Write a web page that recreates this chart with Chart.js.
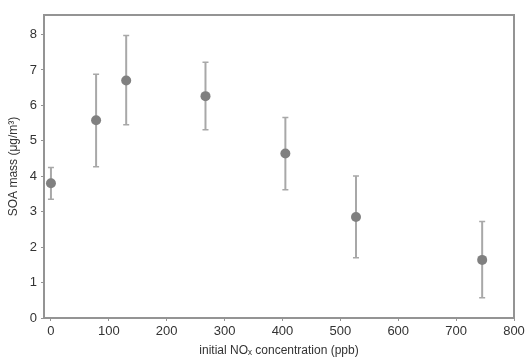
<!DOCTYPE html>
<html>
<head>
<meta charset="utf-8">
<script src="https://cdn.jsdelivr.net/npm/chart.js@4/dist/chart.umd.min.js"></script>
<style>
html,body{margin:0;padding:0;background:#fff;}
#wrap{width:526px;height:358px;}
</style>
</head>
<body>
<div id="wrap"><canvas id="c" width="526" height="358"></canvas></div>
<script>
const noxPpb = [0, 78, 130, 267, 405, 527, 745];
const soaMass = [3.80, 5.58, 6.70, 6.26, 4.64, 2.85, 1.64];
const soaUpper = [4.25, 6.88, 7.97, 7.22, 5.66, 4.01, 2.72];
const soaLower = [3.35, 4.27, 5.45, 5.31, 3.62, 1.70, 0.57];
const xTicks = [0, 100, 200, 300, 400, 500, 600, 700, 800];
const yTicks = [0, 1, 2, 3, 4, 5, 6, 7, 8];

const axisColor = '#949494';
const textColor = '#333333';

const errorBars = {
  id: 'errorBars',
  beforeDatasetsDraw(chart) {
    const ctx = chart.ctx;
    const xs = chart.scales.x, ys = chart.scales.y;
    ctx.save();
    ctx.strokeStyle = '#a8a8a8';
    for (let i = 0; i < noxPpb.length; i++) {
      const px = xs.getPixelForValue(noxPpb[i]);
      const pu = ys.getPixelForValue(soaUpper[i]);
      const pl = ys.getPixelForValue(soaLower[i]);
      ctx.lineWidth = 2;
      ctx.beginPath();
      ctx.moveTo(px, pu); ctx.lineTo(px, pl);
      ctx.stroke();
      ctx.lineWidth = 1.5;
      ctx.beginPath();
      ctx.moveTo(px - 3, pu); ctx.lineTo(px + 3, pu);
      ctx.moveTo(px - 3, pl); ctx.lineTo(px + 3, pl);
      ctx.stroke();
    }
    ctx.restore();
  }
};

const frame = {
  id: 'frame',
  afterDraw(chart) {
    const a = chart.chartArea, ctx = chart.ctx;
    ctx.save();
    ctx.strokeStyle = axisColor;
    ctx.lineWidth = 2;
    ctx.beginPath();
    ctx.moveTo(a.left - 1, a.top);
    ctx.lineTo(a.right, a.top);
    ctx.lineTo(a.right, a.bottom + 1);
    ctx.stroke();
    ctx.restore();
  }
};

new Chart(document.getElementById('c'), {
  type: 'scatter',
  data: {
    datasets: [{
      data: noxPpb.map((x, i) => ({x: x, y: soaMass[i]})),
      backgroundColor: '#808080',
      borderColor: '#808080',
      pointRadius: 5,
      pointHoverRadius: 5,
      borderWidth: 0
    }]
  },
  options: {
    responsive: false,
    animation: false,
    devicePixelRatio: 1,
    layout: {padding: {top: 15, right: 12, left: 0, bottom: 0}},
    plugins: {legend: {display: false}, tooltip: {enabled: false}},
    scales: {
      x: {
        type: 'linear',
        min: -12,
        max: 800,
        afterBuildTicks(s) { s.ticks = xTicks.map(v => ({value: v})); },
        afterFit(s) { s.height = 40; s.paddingLeft = 0; s.paddingRight = 0; },
        grid: {drawOnChartArea: false, drawTicks: true, tickLength: 3, color: axisColor, lineWidth: 1},
        border: {display: true, color: axisColor, width: 2},
        ticks: {color: textColor, font: {family: 'Liberation Sans, Arial', size: 13}, padding: 3, maxRotation: 0},
        title: {display: true, text: 'initial NOₓ concentration (ppb)', color: textColor,
                font: {family: 'Liberation Sans, DejaVu Sans, Arial', size: 12}, padding: {top: 0, bottom: 0}}
      },
      y: {
        type: 'linear',
        min: 0,
        max: 8.55,
        afterBuildTicks(s) { s.ticks = yTicks.map(v => ({value: v})); },
        afterFit(s) { s.width = 44; },
        grid: {drawOnChartArea: false, drawTicks: true, tickLength: 3, color: axisColor, lineWidth: 1},
        border: {display: true, color: axisColor, width: 2},
        ticks: {color: textColor, font: {family: 'Liberation Sans, Arial', size: 13}, padding: 4},
        title: {display: true, text: 'SOA mass (μg/m³)', color: textColor,
                font: {family: 'Liberation Sans, Arial', size: 12}, padding: {top: 6, bottom: 0}}
      }
    }
  },
  plugins: [errorBars, frame]
});
</script>
</body>
</html>
